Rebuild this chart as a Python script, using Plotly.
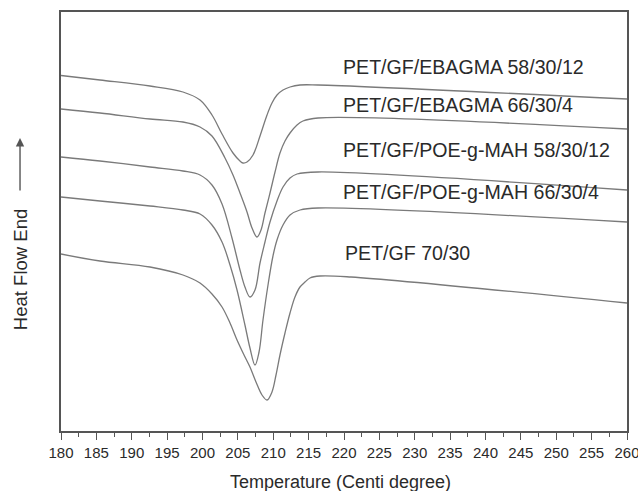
import plotly.graph_objects as go

# DSC cooling curves (heat flow in arbitrary units, endo up)
labels = [
    "PET/GF/EBAGMA 58/30/12",
    "PET/GF/EBAGMA 66/30/4",
    "PET/GF/POE-g-MAH 58/30/12",
    "PET/GF/POE-g-MAH 66/30/4",
    "PET/GF 70/30",
]

t_ebagma12 = [180.0, 185.51, 192.58, 197.24, 199.65, 201.34, 202.76, 204.31, 205.30, 205.72, 206.29,
              207.14, 208.13, 209.12, 209.82, 210.53, 211.38, 212.37, 213.78, 216.33, 260.0]
hf_ebagma12 = [3.555, 3.51, 3.45, 3.39, 3.31, 3.16, 2.97, 2.78, 2.70, 2.68, 2.69,
               2.76, 2.95, 3.16, 3.28, 3.36, 3.41, 3.44, 3.46, 3.46, 3.32]

t_ebagma4 = [180.0, 185.51, 192.58, 197.24, 199.65, 201.34, 203.18, 204.31, 205.30, 206.29, 207.00, 207.70,
             208.27, 208.83, 209.54, 210.25, 210.95, 211.66, 212.37, 213.36, 214.20, 216.33, 260.0]
hf_ebagma4 = [3.22, 3.18, 3.12, 3.09, 3.04, 2.95, 2.73, 2.56, 2.38, 2.19, 2.03, 1.94,
              2.01, 2.18, 2.38, 2.59, 2.78, 2.90, 2.98, 3.06, 3.10, 3.13, 3.02]

t_poe12 = [180.0, 185.51, 192.58, 197.24, 199.65, 201.34, 202.76, 204.17, 205.30, 206.00, 206.71,
           207.42, 208.13, 208.83, 209.54, 210.53, 211.38, 212.37, 213.36, 216.33, 260.0]
hf_poe12 = [2.74, 2.70, 2.64, 2.60, 2.56, 2.46, 2.27, 1.93, 1.61, 1.44, 1.34,
            1.41, 1.68, 1.89, 2.09, 2.30, 2.44, 2.53, 2.57, 2.59, 2.41]

t_poe4 = [180.0, 185.51, 192.58, 197.24, 199.65, 201.34, 202.76, 203.89, 204.88, 206.00, 206.71,
          207.42, 207.99, 208.55, 209.26, 209.96, 210.53, 211.38, 212.37, 213.78, 216.33, 260.0]
hf_poe4 = [2.34, 2.30, 2.25, 2.21, 2.17, 2.06, 1.89, 1.66, 1.41, 1.06, 0.83,
           0.66, 0.79, 1.11, 1.46, 1.75, 1.91, 2.06, 2.16, 2.21, 2.23, 2.09]

t_petgf = [180.0, 185.51, 192.58, 197.24, 199.65, 201.34, 202.76, 203.89, 204.88, 205.87, 206.71, 207.56,
           208.41, 209.12, 209.82, 210.39, 210.95, 211.66, 212.37, 213.07, 213.78, 214.49, 215.19, 216.61,
           220.99, 260.0]
hf_petgf = [1.77, 1.70, 1.64, 1.56, 1.48, 1.37, 1.24, 1.08, 0.91, 0.76, 0.64, 0.49,
            0.36, 0.31, 0.39, 0.56, 0.76, 0.98, 1.18, 1.34, 1.44, 1.49, 1.53, 1.55,
            1.54, 1.28]

# label anchor points (left edge, vertical centre)
label_t = [219.55, 219.55, 219.55, 219.55, 219.85]
label_hf = [3.64, 3.26, 2.81, 2.39, 1.78]

x_ticks = list(range(180, 261, 5))

curves = [
    (t_ebagma12, hf_ebagma12),
    (t_ebagma4, hf_ebagma4),
    (t_poe12, hf_poe12),
    (t_poe4, hf_poe4),
    (t_petgf, hf_petgf),
]

fig = go.Figure()
for (t, hf), name in zip(curves, labels):
    fig.add_trace(go.Scatter(
        x=t, y=hf, mode="lines", name=name,
        line=dict(color="#7a7a7a", width=1.3, shape="spline", smoothing=1.0),
        showlegend=False, hoverinfo="skip",
    ))

font_family = "Liberation Sans, Arial, sans-serif"

for name, lt, lh in zip(labels, label_t, label_hf):
    fig.add_annotation(
        x=lt, y=lh, text=name, showarrow=False,
        xanchor="left", yanchor="middle",
        font=dict(family=font_family, size=19.6, color="#2a2a2a"),
    )

# axis titles as free annotations
fig.add_annotation(
    xref="paper", yref="paper", x=0.493, y=-0.1217,
    text="Temperature (Centi degree)", showarrow=False,
    xanchor="center", yanchor="middle",
    font=dict(family=font_family, size=18, color="#2a2a2a"),
)
fig.add_annotation(
    xref="paper", yref="paper", x=-0.0724, y=0.384,
    text="Heat Flow End", showarrow=False, textangle=-90,
    xanchor="center", yanchor="middle",
    font=dict(family=font_family, size=18.5, color="#2a2a2a"),
)
# endotherm direction arrow
fig.add_annotation(
    xref="paper", yref="paper", x=-0.0724, y=0.699,
    ax=0, ay=54, text="", showarrow=True,
    arrowhead=2, arrowsize=1.2, arrowwidth=1.4, arrowcolor="#555555",
)

fig.update_layout(
    width=638, height=491,
    margin=dict(l=61, r=11, t=12, b=60),
    paper_bgcolor="white", plot_bgcolor="white",
    font=dict(family=font_family, color="#2a2a2a"),
    xaxis=dict(
        range=[180, 260], tickvals=x_ticks, ticktext=[str(v) for v in x_ticks],
        ticks="outside", ticklen=7, tickwidth=1.3, tickcolor="#555555",
        minor=dict(dtick=2.5, tick0=180, ticks="outside", ticklen=4, tickwidth=1.2, tickcolor="#555555", showgrid=False),
        showline=True, linecolor="#555555", linewidth=1.8, mirror=True,
        showgrid=False, zeroline=False, automargin=False,
        ticklabeloverflow="allow",
        tickfont=dict(size=15, color="#2a2a2a"),
    ),
    yaxis=dict(
        range=[0, 4.19], showticklabels=False, ticks="",
        showline=True, linecolor="#555555", linewidth=1.8, mirror=True,
        showgrid=False, zeroline=False, automargin=False,
    ),
)

fig.write_html("out.html")
